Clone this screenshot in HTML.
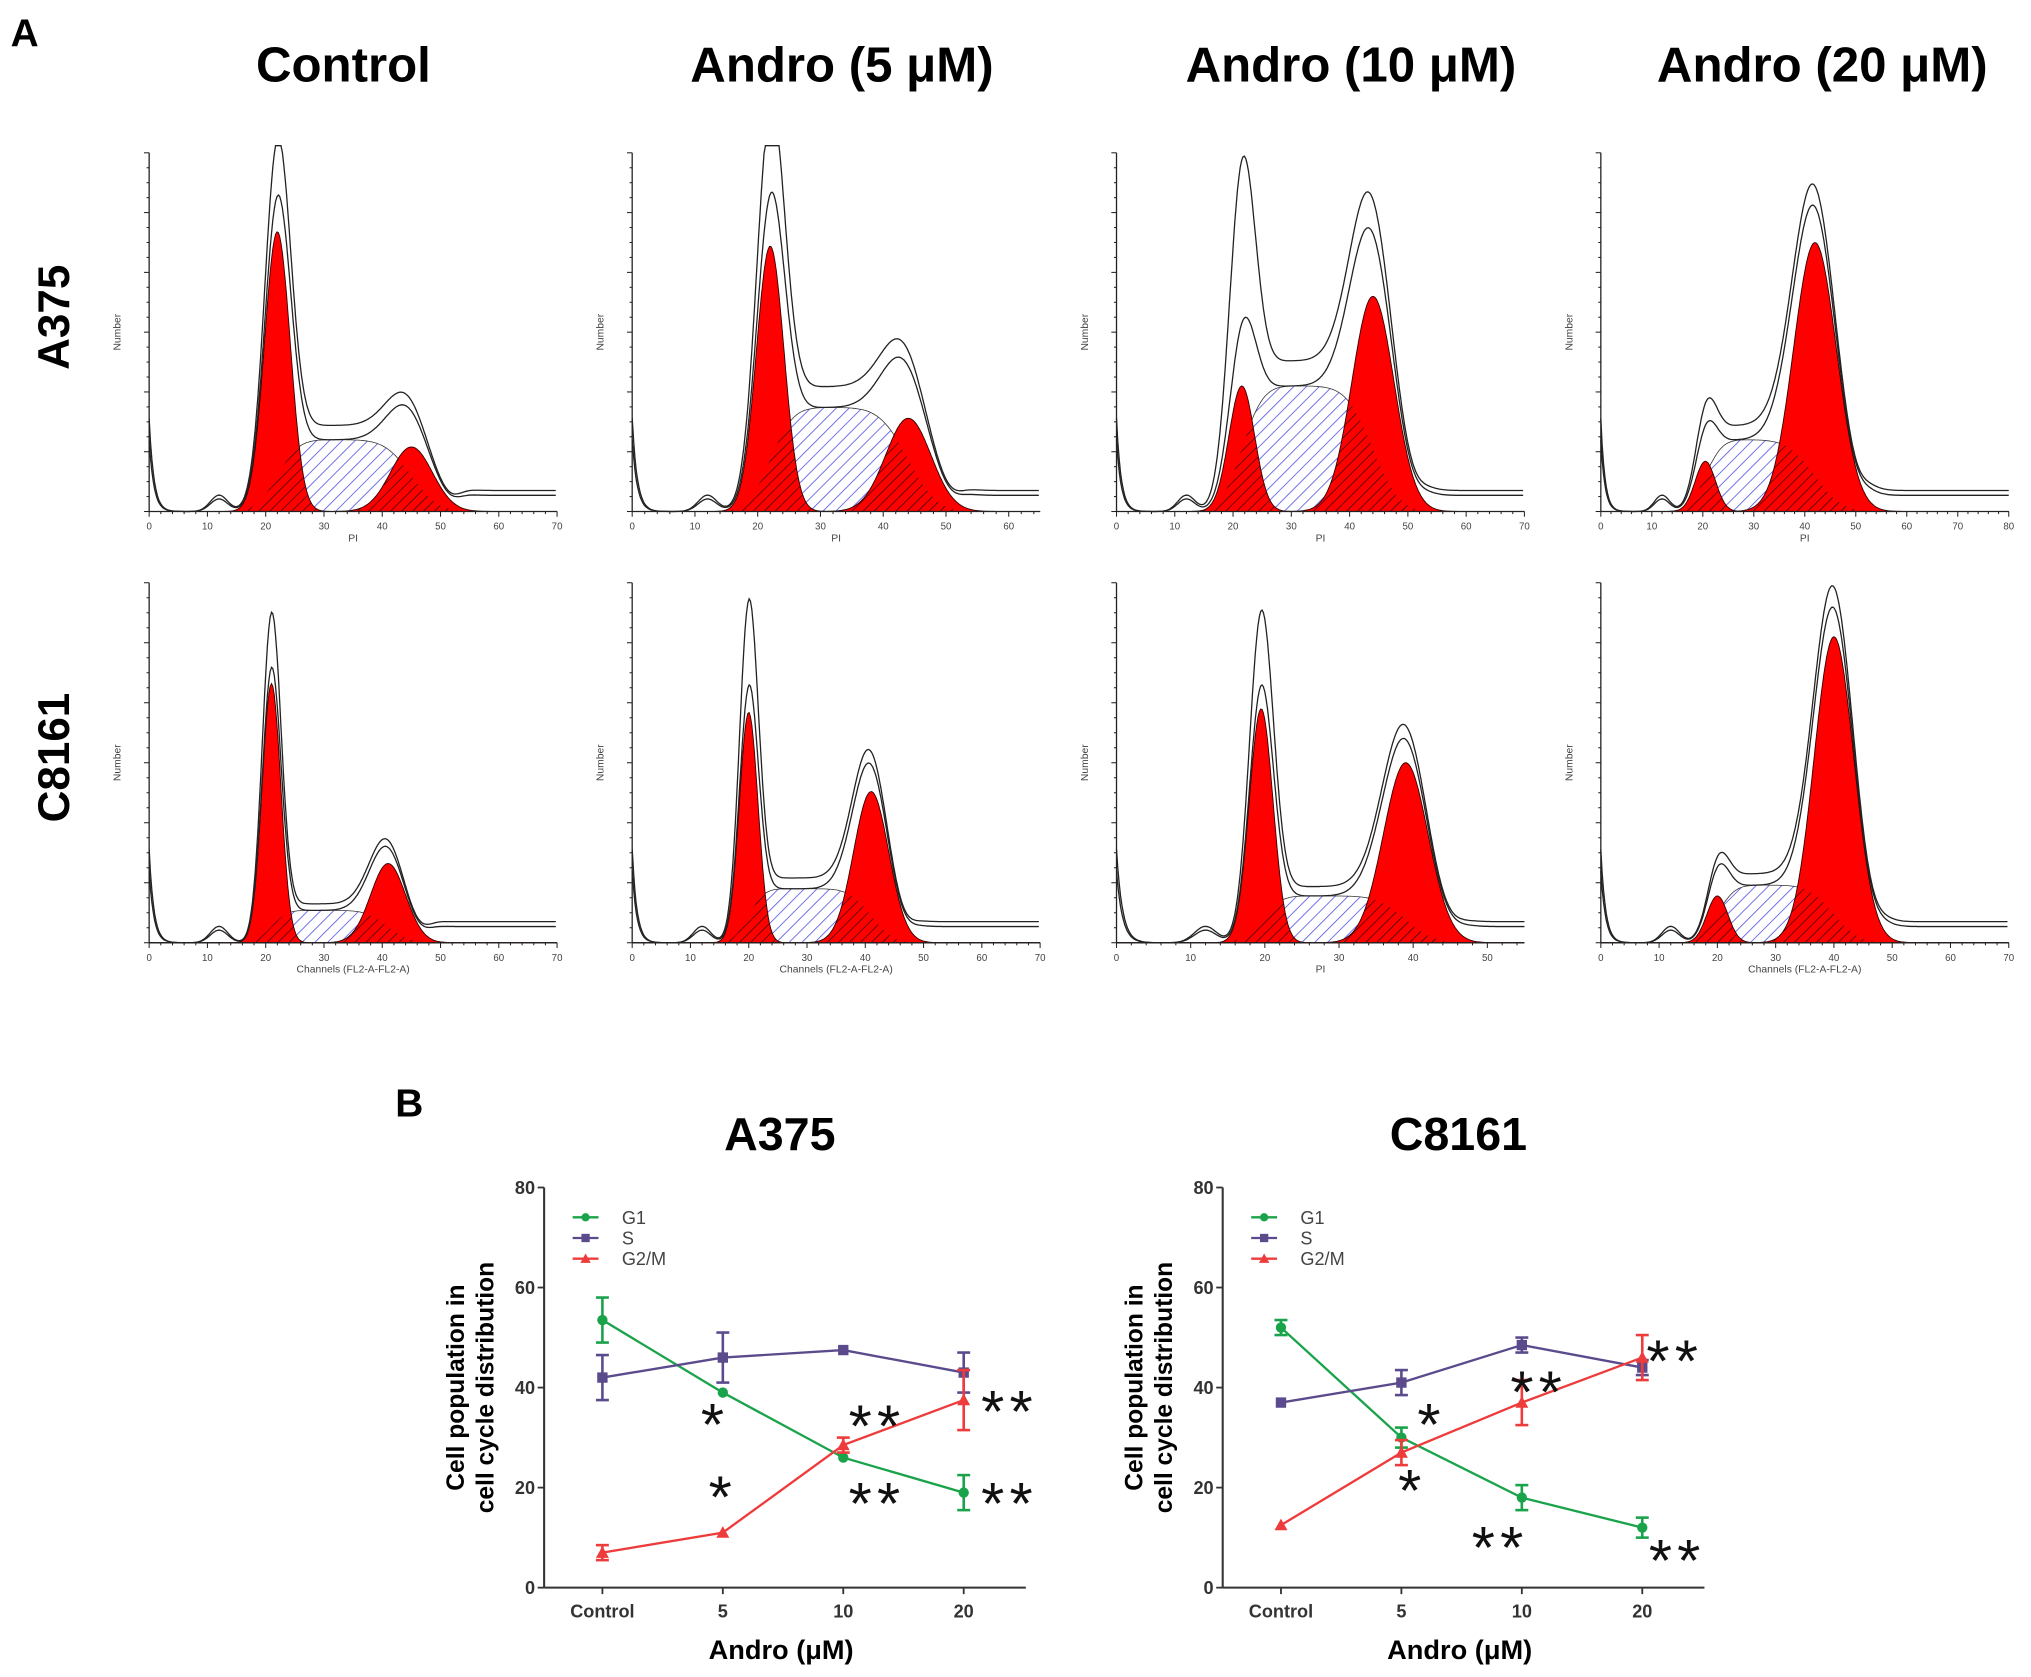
<!DOCTYPE html>
<html><head><meta charset="utf-8"><style>
html,body{margin:0;padding:0;background:#fff}
svg{display:block}
text{font-family:"Liberation Sans",Arial,sans-serif}
</style></head><body>
<svg id="fig" width="2031" height="1677" viewBox="0 0 1568 1295" xmlns="http://www.w3.org/2000/svg">
<defs>
<pattern id="blueHatch" patternUnits="userSpaceOnUse" width="7" height="7" patternTransform="rotate(45)">
<rect width="7" height="7" fill="#fff"/><line x1="0" y1="0" x2="0" y2="7" stroke="#5a5ae6" stroke-width="1.3"/></pattern>
<pattern id="blackHatch" patternUnits="userSpaceOnUse" width="6" height="6" patternTransform="rotate(45)">
<line x1="0" y1="0" x2="0" y2="6" stroke="#111" stroke-width="1"/></pattern>
</defs>
<text x="8" y="36" font-size="30" font-weight="bold">A</text>
<text x="305" y="862" font-size="30" font-weight="bold">B</text>
<g id="hist"></g>
<g id="lines"></g>
</svg>
<script>
const NS="http://www.w3.org/2000/svg";
function mk(tag,attrs,parent,txt){const e=document.createElementNS(NS,tag);for(const k in attrs)e.setAttribute(k,attrs[k]);if(txt!==undefined)e.textContent=txt;parent.appendChild(e);return e;}

// ---------- Panel A data ----------
const colTitles=["Control","Andro (5 μM)","Andro (10 μM)","Andro (20 μM)"];
const rowTitles=["A375","C8161"];
const histXmax=[[70,65,70,80],[70,70,55,70]];
const g1Mean=[[22,22,21.5,20.5],[21,20,19.5,20]];
const g1Height=[[0.78,0.74,0.35,0.14],[0.72,0.64,0.65,0.13]];
const g1Sd=[[2.2,2.2,2.2,2.0],[1.6,1.6,1.6,1.8]];
const sHeight=[[0.2,0.29,0.35,0.2],[0.09,0.15,0.13,0.16]];
const g2Mean=[[45,44,44,42],[41,41,39,40]];
const g2Height=[[0.18,0.26,0.6,0.75],[0.22,0.42,0.5,0.85]];
const g2Sd=[[3.6,3.6,3.6,4.2],[3.0,3.0,3.0,3.4]];
const outlineBoost=[[1.18,1.3,2.2,1.3],[1.2,1.35,1.3,1.1]];
const colX=[115,488,862,1236];
const rowY=[[118,395],[450,728]];
const axW=315;

function erf(x){const s=x<0?-1:1;x=Math.abs(x);const t=1/(1+0.3275911*x);const y=1-(((((1.061405429*t-1.453152027)*t)+1.421413741)*t-0.284496736)*t+0.254829592)*t*Math.exp(-x*x);return s*y;}
const Phi=z=>0.5*(1+erf(z/Math.SQRT2));
const gauss=(x,m,s,h)=>h*Math.exp(-0.5*((x-m)/s)**2);

const H=document.getElementById('hist');
colTitles.forEach((t,c)=>{
  const cx=[265,650,1043,1407][c];
  const e=mk('text',{x:cx,y:63,'font-size':38,'font-weight':'bold','text-anchor':'middle'},H,t);
  
  
});
rowTitles.forEach((t,r)=>{
  const cy=[245,585][r];
  const e=mk('text',{x:0,y:0,'font-size':34,'font-weight':'bold','text-anchor':'middle',transform:`translate(53,${cy}) rotate(-90)`},H,t);
  
  
});

for(let r=0;r<2;r++)for(let c=0;c<4;c++){
  const g=mk('g',{},H);
  
  
  const x0=colX[c],yT=rowY[r][0],yB=rowY[r][1],ah=yB-yT,xm=histXmax[r][c];
  const X=v=>x0+v/xm*axW, Y=f=>yB-f*ah;
  const m1=g1Mean[r][c],h1=g1Height[r][c],s1=g1Sd[r][c];
  const m2=g2Mean[r][c],h2=g2Height[r][c],s2=g2Sd[r][c];
  const hs=sHeight[r][c];
  const G1=x=>gauss(x,m1,s1,h1), G2=x=>gauss(x,m2,s2,h2);
  const S=x=>hs*(Phi((x-m1)/(s1*1.3))-Phi((x-m2)/(s2*1.0)));
  const debris=x=>0.2*Math.exp(-x/0.8)+0.045*Phi((x-(m2+2.2*s2))/1.5)+gauss(x,12,1.5,0.035);
  const pts=[];for(let x=0;x<=xm;x+=xm/300)pts.push(x);
  const area=f=>'M'+X(0)+','+yB+' '+pts.map(x=>'L'+X(x).toFixed(1)+','+Y(f(x)).toFixed(1)).join(' ')+' L'+X(xm)+','+yB+'Z';
  const line=f=>'M'+pts.map(x=>X(x).toFixed(1)+','+Y(Math.min(f(x),1.02)).toFixed(1)).join(' L');
  const cid=`clip${r}${c}`;
  const cp=mk('clipPath',{id:cid},g);
  mk('path',{d:area(x=>Math.max(G1(x),G2(x)))},cp);
  mk('path',{d:area(S),fill:'url(#blueHatch)',stroke:'#333','stroke-width':0.6},g);
  mk('path',{d:area(G1),fill:'#f00',stroke:'#300','stroke-width':0.7},g);
  mk('path',{d:area(G2),fill:'#f00',stroke:'#300','stroke-width':0.7},g);
  mk('path',{d:area(S),fill:'url(#blackHatch)','clip-path':`url(#${cid})`},g);
  const tot=x=>G1(x)+G2(x)+S(x)+debris(x);
  mk('path',{d:line(tot),fill:'none',stroke:'#222','stroke-width':1},g);
  const b=outlineBoost[r][c];
  mk('path',{d:line(x=>G1(x)*b+G2(x)*(r===0&&c===2?1.1:1.05)+S(x)*1.2+debris(x)*1.3),fill:'none',stroke:'#222','stroke-width':1},g);
  mk('line',{x1:x0,y1:yT,x2:x0,y2:yB,stroke:'#222','stroke-width':1},g);
  mk('line',{x1:x0,y1:yB,x2:x0+axW,y2:yB,stroke:'#222','stroke-width':1},g);
  for(let i=0;i<=24;i++){const yy=yB-i*ah/24;mk('line',{x1:x0-(i%4?2:4),y1:yy,x2:x0,y2:yy,stroke:'#222','stroke-width':0.8},g);}
  for(let v=0;v<=xm;v+=2){mk('line',{x1:X(v),y1:yB,x2:X(v),y2:yB+(v%10?2:4),stroke:'#222','stroke-width':0.8},g);
    if(v%10===0){const t=mk('text',{x:X(v),y:yB+14,'font-size':7.5,'text-anchor':'middle',fill:'#444'},g,v);}}
  const yl=mk('text',{x:0,y:0,'font-size':8,'text-anchor':'middle',fill:'#444',transform:`translate(${x0-22},${(yT+yB)/2}) rotate(-90)`},g,'Number');
  
  const xlab=(r===1&&(c===0||c===1||c===3))?'Channels (FL2-A-FL2-A)':'PI';
  const xl=mk('text',{x:x0+axW/2,y:yB+23,'font-size':8,'text-anchor':'middle',fill:'#444'},g,xlab);
  
}

// ---------- Panel B data ----------
const categories=["Control","5","10","20"];
const yTicks=[0,20,40,60,80];
const a375G1=[53.5,39,26,19], a375G1Err=[4.5,0,0,3.5];
const a375S=[42,46,47.5,43], a375SErr=[4.5,5,0,4];
const a375G2=[7,11,28.5,37.5], a375G2Err=[1.5,0,1.5,6];
const c8161G1=[52,30,18,12], c8161G1Err=[1.5,2,2.5,2];
const c8161S=[37,41,48.5,44], c8161SErr=[0,2.5,1.5,1.5];
const c8161G2=[12.5,27,37,46], c8161G2Err=[0,2.5,4.5,4.5];
const a375Stars=[["*",0.935,34.7],["*",1,20.2],["**",2.28,34.4],["**",2.28,18.9],["**",3.38,37.3],["**",3.38,18.9]];
const c8161Stars=[["*",1.25,34.7],["*",1.09,21.5],["**",2.14,41.2],["**",1.82,10.1],["**",3.27,47.4],["**",3.29,7.5]];

const L=document.getElementById('lines');
function lineChart(name,ax,title,ser,stars){
  const g=mk('g',{},L);
  
  
  const yTop=917,yBot=1226,xEnd=ax+372;
  const X=i=>ax+45+i*93, Y=v=>yBot-v/80*(yBot-yTop);
  const tt=mk('text',{x:ax+182,y:888,'font-size':36,'font-weight':'bold','text-anchor':'middle'},g,title);
  
  mk('line',{x1:ax,y1:yTop,x2:ax,y2:yBot,stroke:'#333','stroke-width':1.6},g);
  mk('line',{x1:ax,y1:yBot,x2:xEnd,y2:yBot,stroke:'#333','stroke-width':1.6},g);
  yTicks.forEach(v=>{mk('line',{x1:ax-5,y1:Y(v),x2:ax,y2:Y(v),stroke:'#333','stroke-width':1.4},g);
    const t=mk('text',{x:ax-7,y:Y(v)+5,'font-size':14,'font-weight':'bold','text-anchor':'end',fill:'#333'},g,v);
    });
  categories.forEach((cname,i)=>{mk('line',{x1:X(i),y1:yBot,x2:X(i),y2:yBot+5,stroke:'#333','stroke-width':1.4},g);
    const t=mk('text',{x:X(i),y:yBot+23,'font-size':14,'font-weight':'bold','text-anchor':'middle',fill:'#333'},g,cname);
    });
  const yt=mk('text',{x:0,y:0,'font-size':19,'font-weight':'bold','text-anchor':'middle',transform:`translate(${ax-62},${(yTop+yBot)/2}) rotate(-90)`},g);
  
  mk('tspan',{x:0,dy:0},yt,'Cell population in');mk('tspan',{x:0,dy:23},yt,'cell cycle distribution');
  const xt=mk('text',{x:ax+183,y:1281,'font-size':21,'font-weight':'bold','text-anchor':'middle'},g,'Andro (μM)');
  
  ser.forEach((s,si)=>{
    const sg=mk('g',{},g);
    
    
    mk('polyline',{points:s.v.map((v,i)=>X(i)+','+Y(v)).join(' '),fill:'none',stroke:s.col,'stroke-width':1.8},sg);
    s.v.forEach((v,i)=>{const e=s.e[i];
      if(e>0){mk('line',{x1:X(i),y1:Y(v-e),x2:X(i),y2:Y(v+e),stroke:s.col,'stroke-width':2},sg);
        [v-e,v+e].forEach(w=>mk('line',{x1:X(i)-5,y1:Y(w),x2:X(i)+5,y2:Y(w),stroke:s.col,'stroke-width':2},sg));}
      marker(sg,s.shape,X(i),Y(v),s.col);});
    const ly=940+si*16;
    mk('line',{x1:ax+22,y1:ly,x2:ax+42,y2:ly,stroke:s.col,'stroke-width':1.8},g);
    marker(g,s.shape,ax+32,ly,s.col,0.8);
    const lt=mk('text',{x:ax+60,y:ly+5,'font-size':14,fill:'#444'},g,s.label);
    
  });
  stars.forEach(([s,i,v])=>{const t=mk('text',{x:X(i),y:Y(v)+24,'font-size':46,'text-anchor':'middle','letter-spacing':4,fill:'#111'},g,s);
    });
}
function marker(p,shape,x,y,col,sc=1){
  if(shape==='c')mk('circle',{cx:x,cy:y,r:4*sc,fill:col},p);
  else if(shape==='s')mk('rect',{x:x-4*sc,y:y-4*sc,width:8*sc,height:8*sc,fill:col},p);
  else mk('polygon',{points:`${x},${y-5*sc} ${x-5*sc},${y+4*sc} ${x+5*sc},${y+4*sc}`,fill:col},p);
}
lineChart('a375',420,'A375',[
  {label:'G1',v:a375G1,e:a375G1Err,col:'#1aa34a',shape:'c'},
  {label:'S',v:a375S,e:a375SErr,col:'#5b4a8c',shape:'s'},
  {label:'G2/M',v:a375G2,e:a375G2Err,col:'#ee3b3b',shape:'t'}],a375Stars);
lineChart('c8161',944,'C8161',[
  {label:'G1',v:c8161G1,e:c8161G1Err,col:'#1aa34a',shape:'c'},
  {label:'S',v:c8161S,e:c8161SErr,col:'#5b4a8c',shape:'s'},
  {label:'G2/M',v:c8161G2,e:c8161G2Err,col:'#ee3b3b',shape:'t'}],c8161Stars);
</script>
</body></html>
